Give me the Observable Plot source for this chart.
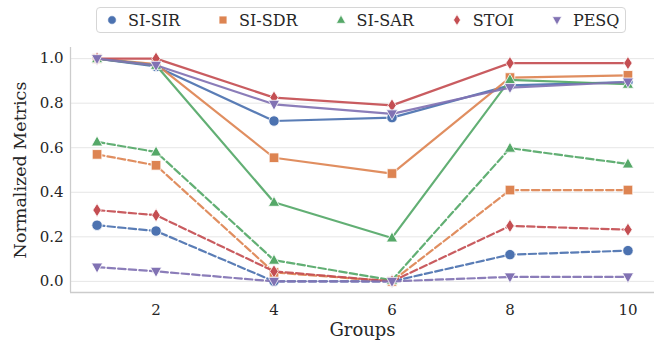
<!DOCTYPE html>
<html>
<head>
<meta charset="utf-8">
<script src="https://cdn.jsdelivr.net/npm/d3@7"></script>
<script src="https://cdn.jsdelivr.net/npm/@observablehq/plot@0.6"></script>
<style>
  html, body { margin: 0; padding: 0; background: #fff; }
  #wrap { position: relative; width: 659px; height: 343px; font-family: "DejaVu Serif", serif; }
  #legend { position: absolute; left: 96px; top: 7px; height: 26px; box-sizing: border-box;
    border: 1px solid #d6d6d6; border-radius: 4px; background: rgba(255,255,255,0.85);
    display: flex; align-items: center; padding: 0 6px 0 9px; gap: 37px; color: #262626; font-size: 16px; }
  .item { display: flex; align-items: center; white-space: nowrap; }
  .item svg { margin-right: 10px; }
</style>
</head>
<body>
<div id="wrap"><div id="legend"></div></div>
<script>
const groups = [1, 2, 4, 6, 8, 10];
const metrics = ["SI-SIR", "SI-SDR", "SI-SAR", "STOI", "PESQ"];
const colors = ["#4c72b0", "#dd8452", "#55a868", "#c44e52", "#8172b3"];

// solid lines
const solidSIR  = [1.0, 0.965, 0.72, 0.735, 0.88, 0.895];
const solidSDR  = [1.0, 0.975, 0.555, 0.484, 0.915, 0.925];
const solidSAR  = [1.0, 0.97, 0.355, 0.195, 0.905, 0.885];
const solidSTOI = [1.0, 1.0, 0.825, 0.79, 0.98, 0.98];
const solidPESQ = [1.0, 0.97, 0.795, 0.752, 0.87, 0.895];
// dashed lines
const dashSIR  = [0.252, 0.226, 0.0, 0.0, 0.12, 0.138];
const dashSDR  = [0.570, 0.521, 0.04, 0.0, 0.41, 0.41];
const dashSAR  = [0.626, 0.581, 0.095, 0.005, 0.598, 0.527];
const dashSTOI = [0.32, 0.297, 0.045, 0.0, 0.249, 0.232];
const dashPESQ = [0.064, 0.045, 0.0, 0.0, 0.02, 0.02];

const xTicks = [2, 4, 6, 8, 10];
const yTicks = [0, 0.2, 0.4, 0.6, 0.8, 1.0];

const solids = [solidSIR, solidSDR, solidSAR, solidSTOI, solidPESQ];
const dashes = [dashSIR, dashSDR, dashSAR, dashSTOI, dashPESQ];

// custom marker shapes (matplotlib o, s, ^, d, v)
const symCircle = { draw(c) { c.moveTo(5.2, 0); c.arc(0, 0, 5.2, 0, 2 * Math.PI); c.closePath(); } };
const symSquare = { draw(c) { c.rect(-4.8, -4.8, 9.6, 9.6); } };
const symTriUp = { draw(c) { c.moveTo(0, -6); c.lineTo(5.6, 4); c.lineTo(-5.6, 4); c.closePath(); } };
const symDiamond = { draw(c) { c.moveTo(0, -6.6); c.lineTo(4.2, 0); c.lineTo(0, 6.6); c.lineTo(-4.2, 0); c.closePath(); } };
const symTriDown = { draw(c) { c.moveTo(0, 6); c.lineTo(5.6, -4); c.lineTo(-5.6, -4); c.closePath(); } };
const symbols = [symCircle, symSquare, symTriUp, symDiamond, symTriDown];

const rows = [];
metrics.forEach((m, i) => {
  groups.forEach((g, j) => {
    rows.push({ metric: m, style: "solid", idx: i, x: g, y: solids[i][j] });
  });
  groups.forEach((g, j) => {
    rows.push({ metric: m, style: "dash", idx: i, x: g, y: dashes[i][j] });
  });
});

const marks = [
  Plot.gridY(yTicks, { stroke: "#e6e6e6", strokeOpacity: 1, strokeWidth: 1 }),
  Plot.ruleX([0.55], { stroke: "#cccccc", strokeWidth: 1.3 }),
  Plot.ruleY([-0.05], { stroke: "#cccccc", strokeWidth: 1.3 }),
  Plot.axisX(xTicks, { tickSize: 0, tickPadding: 12, fontSize: 15, fill: "#262626", label: null }),
  Plot.axisY(yTicks, { tickSize: 0, tickPadding: 7, fontSize: 15, fill: "#262626", label: null, tickFormat: d3.format(".1f") }),
  Plot.text(["Groups"], { frameAnchor: "bottom", lineAnchor: "middle", textAnchor: "middle", dy: 38, fontSize: 18, fill: "#262626" }),
  Plot.text(["Normalized Metrics"], { frameAnchor: "left", lineAnchor: "middle", textAnchor: "middle", dx: -50, rotate: -90, fontSize: 17.5, fill: "#262626" })
];

metrics.forEach((m, i) => {
  ["solid", "dash"].forEach(st => {
    const data = rows.filter(r => r.metric === m && r.style === st);
    marks.push(Plot.line(data, {
      x: "x", y: "y", stroke: colors[i], strokeWidth: 2.2, strokeOpacity: 0.92,
      strokeDasharray: st === "dash" ? "7.4,3.2" : null
    }));
    marks.push(Plot.dot(data, {
      x: "x", y: "y", symbol: () => symbols[i], fill: colors[i], stroke: "white", strokeWidth: 0.8, r: 5
    }));
  });
});

const chart = Plot.plot({
  width: 659,
  height: 343,
  marginLeft: 70,
  marginRight: 5,
  marginTop: 47,
  marginBottom: 51,
  style: { fontFamily: "DejaVu Serif, serif", background: "white", overflow: "visible" },
  x: { domain: [0.55, 10.45] },
  y: { domain: [-0.05, 1.05] },
  marks
});
document.getElementById("wrap").prepend(chart);

// legend
const legend = document.getElementById("legend");
metrics.forEach((m, i) => {
  const item = document.createElement("div");
  item.className = "item";
  const ns = "http://www.w3.org/2000/svg";
  const svg = document.createElementNS(ns, "svg");
  svg.setAttribute("width", 12); svg.setAttribute("height", 14);
  svg.setAttribute("viewBox", "-6 -7 12 14");
  const path = document.createElementNS(ns, "path");
  const p = d3.path();
  symbols[i].draw(p, 0);
  path.setAttribute("d", p.toString());
  path.setAttribute("fill", colors[i]);
  path.setAttribute("stroke", "white");
  path.setAttribute("stroke-width", 0.8);
  path.setAttribute("transform", "scale(0.82)");
  svg.appendChild(path);
  item.appendChild(svg);
  const span = document.createElement("span");
  span.textContent = m;
  item.appendChild(span);
  legend.appendChild(item);
});
</script>
</body>
</html>
